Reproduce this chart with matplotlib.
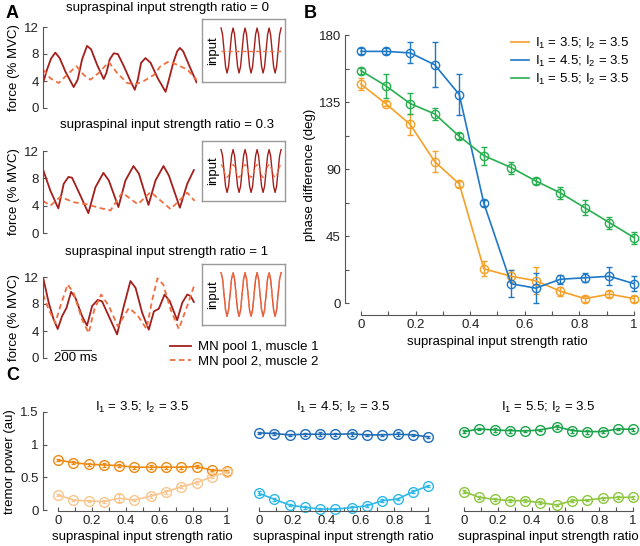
import numpy as np
import matplotlib
matplotlib.use("Agg")
import matplotlib.pyplot as plt

plt.rcParams['font.family'] = ['Liberation Sans', 'DejaVu Sans']
plt.rcParams['mathtext.default'] = 'regular'
plt.rcParams['font.size'] = 9.5

# ---- panel A: force traces (time in ms, force in % MVC) ----
a1_t1 = [0, 27, 53, 82, 111, 149, 204, 231, 260, 293, 320, 360, 404, 422, 444, 471, 498, 538, 582,
         611, 631, 653, 682, 716, 764, 816, 838, 867, 893, 911, 933, 971, 1022]
a1_f1 = [3.7, 5.7, 7.3, 8.2, 7.4, 5.4, 3.1, 4.2, 7.2, 9.2, 8.7, 6.4, 4.3, 5.2, 7.2, 8.1, 8.0, 6.2, 4.0,
         2.7, 4.2, 6.7, 7.4, 6.7, 4.4, 2.4, 4.2, 6.7, 8.4, 8.9, 8.4, 6.4, 3.8]
a1_t2 = [0, 49, 104, 160, 222, 271, 316, 371, 438, 493, 560, 616, 671, 738, 782, 838, 893, 960, 1022]
a1_f2 = [5.7, 4.4, 3.7, 4.9, 6.2, 4.9, 4.2, 5.2, 6.8, 5.2, 3.7, 3.5, 4.0, 4.9, 6.2, 6.9, 6.4, 5.7, 4.2]

a2_t1 = [0, 49, 102, 138, 169, 193, 238, 302, 349, 402, 438, 502, 549, 602, 638, 702, 749, 802, 838,
         911, 960, 1004]
a2_f1 = [9.3, 6.2, 3.6, 7.2, 8.2, 8.1, 6.0, 2.9, 6.7, 8.8, 7.7, 3.8, 7.7, 9.8, 8.7, 4.1, 7.7, 9.8, 8.4,
         3.7, 7.2, 9.2]
a2_t2 = [0, 49, 116, 204, 293, 371, 449, 527, 631, 716, 849, 960, 1009]
a2_f2 = [4.7, 4.0, 5.3, 4.5, 4.2, 3.7, 3.3, 5.9, 4.2, 6.0, 3.5, 5.9, 4.7]

a3_t1 = [0, 38, 71, 98, 127, 156, 187, 216, 260, 293, 327, 364, 393, 438, 493, 538, 582, 616, 660,
         704, 738, 771, 809, 844, 893, 927, 960, 982, 1004]
a3_f1 = [12.0, 8.2, 5.7, 4.3, 6.2, 7.4, 9.8, 8.9, 6.2, 4.8, 7.7, 8.6, 8.4, 6.2, 3.5, 7.7, 11.4, 10.4,
         6.7, 4.2, 6.9, 7.3, 9.4, 8.4, 5.6, 8.2, 9.4, 9.2, 8.3]
a3_t2 = [0, 38, 82, 116, 164, 204, 260, 304, 342, 387, 438, 498, 571, 627, 689, 727, 762, 800, 849,
         904, 960, 1004]
a3_f2 = [9.4, 7.2, 5.2, 7.7, 10.9, 9.6, 5.7, 3.7, 7.2, 9.4, 7.7, 4.7, 7.4, 6.4, 4.3, 8.6, 11.8, 10.9,
         7.2, 4.3, 7.7, 10.6]

ratios_A = ['0', '0.3', '1']
input_cycle = [1, 0.71, 0, -0.71, -1, -0.71, 0, 0.71]
input_main = input_cycle * 5 + [1]
input_second = [[0] * 41,
                [0.3 * v for v in input_main],
                input_main]

# ---- panel B: phase difference ----
ratio = [0, 0.09, 0.18, 0.27, 0.36, 0.45, 0.55, 0.64, 0.73, 0.82, 0.91, 1]
b_labels = ['I$_1$ = 3.5; I$_2$ = 3.5', 'I$_1$ = 4.5; I$_2$ = 3.5', 'I$_1$ = 5.5; I$_2$ = 3.5']
b_phase = [[147, 134, 120, 95, 80, 23, 18, 15, 8, 3, 6, 3],
           [169, 169, 168, 160, 140, 67, 13, 10, 16, 17, 18, 13],
           [156, 146, 134, 127, 112, 99, 91, 82, 74, 64, 54, 44]]
b_err = [[4, 2, 7, 7, 2, 5, 4, 9, 3, 2, 2, 2],
         [2, 2, 7, 15, 14, 2, 9, 10, 3, 3, 6, 5],
         [2, 8, 7, 4, 2, 6, 4, 2, 4, 5, 4, 4]]
b_colors = ['#F5A028', '#1E78C8', '#28AF50']

# ---- panel C: tremor power ----
c_dark = [[0.765, 0.725, 0.70, 0.69, 0.68, 0.655, 0.655, 0.655, 0.655, 0.665, 0.61, 0.60],
          [1.18, 1.17, 1.15, 1.16, 1.16, 1.16, 1.165, 1.15, 1.15, 1.16, 1.15, 1.12],
          [1.20, 1.24, 1.225, 1.215, 1.21, 1.225, 1.275, 1.215, 1.20, 1.20, 1.24, 1.235]]
c_light = [[0.23, 0.153, 0.138, 0.128, 0.18, 0.153, 0.214, 0.28, 0.357, 0.418, 0.51, 0.58],
           [0.255, 0.163, 0.077, 0.041, 0.015, 0.015, 0.036, 0.066, 0.143, 0.168, 0.28, 0.367],
           [0.28, 0.194, 0.163, 0.143, 0.143, 0.112, 0.077, 0.143, 0.153, 0.18, 0.194, 0.194]]
c_dark_err = [[0.02, 0.02, 0.02, 0.03, 0.02, 0.02, 0.03, 0.02, 0.02, 0.02, 0.02, 0.02],
              [0.02, 0.02, 0.02, 0.02, 0.03, 0.02, 0.03, 0.02, 0.02, 0.03, 0.02, 0.02],
              [0.02, 0.02, 0.03, 0.03, 0.02, 0.02, 0.03, 0.03, 0.03, 0.02, 0.02, 0.02]]
c_light_err = [[0.02, 0.02, 0.02, 0.02, 0.06, 0.02, 0.03, 0.03, 0.02, 0.02, 0.02, 0.02],
               [0.03, 0.02, 0.02, 0.02, 0.02, 0.02, 0.03, 0.02, 0.02, 0.02, 0.02, 0.02],
               [0.02, 0.02, 0.02, 0.02, 0.02, 0.02, 0.02, 0.02, 0.02, 0.02, 0.02, 0.02]]
c_dark_colors = ['#EE8A14', '#1F6DB8', '#1BA34B']
c_light_colors = ['#F8C68E', '#2DB8EA', '#8DC63F']

W, H = 640, 546
spine_col = '#555555'
fs = 9.5


def box(x0, y0, x1, y1):
    return [x0 / W, 1 - y1 / H, (x1 - x0) / W, (y1 - y0) / H]


def matlab_style(ax):
    for s in ['top', 'right']:
        ax.spines[s].set_visible(False)
    for s in ['left', 'bottom']:
        ax.spines[s].set_color(spine_col)
        ax.spines[s].set_linewidth(0.8)
    ax.tick_params(direction='in', length=3, width=0.8, color=spine_col, labelsize=fs,
                   labelcolor='#222222', pad=3)


fig = plt.figure(figsize=(6.4, 5.46), dpi=100)

dark_red = '#A21F1C'
orange_red = '#F06E40'
a_traces = [(a1_t1, a1_f1, a1_t2, a1_f2), (a2_t1, a2_f1, a2_t2, a2_f2), (a3_t1, a3_f1, a3_t2, a3_f2)]
a_rows = [(27, 108), (151, 233), (277, 358)]
a_titles_y = [8, 125, 252]
inset_rows = [(19, 82), (141, 201), (264, 325)]

for i in range(3):
    y0, y1 = a_rows[i]
    ax = fig.add_axes(box(43, y0, 197, y1))
    t1, f1, t2, f2 = a_traces[i]
    l1, = ax.plot(t1, f1, color=dark_red, lw=1.3, solid_joinstyle='round')
    l2, = ax.plot(t2, f2, color=orange_red, lw=1.3, dashes=(3, 2), dash_joinstyle='round')
    ax.set_xlim(0, 1025)
    ax.set_ylim(0, 12)
    ax.set_yticks([0, 4, 8, 12])
    matlab_style(ax)
    ax.spines['bottom'].set_visible(False)
    ax.set_xticks([])
    ax.set_ylabel('force (% MVC)', fontsize=fs)
    ax.yaxis.set_label_coords(-0.15, 0.5)
    fig.text(167 / W, 1 - a_titles_y[i] / H, 'supraspinal input strength ratio = ' + ratios_A[i],
             ha='center', va='center', fontsize=fs)

    iy0, iy1 = inset_rows[i]
    axi = fig.add_axes(box(202, iy0, 285, iy1))
    n = np.arange(len(input_main))
    axi.plot(n, input_main, color=dark_red if i < 2 else '#D4503A', lw=1.0)
    axi.plot(n, input_second[i], color=orange_red, lw=1.0, dashes=(3, 2))
    axi.set_xlim(-12.7, 42.6)
    axi.set_ylim(-1.4, 1.4)
    axi.set_xticks([])
    axi.set_yticks([])
    for s in axi.spines.values():
        s.set_color('#999999')
        s.set_linewidth(1.0)
    axi.text(0.13, 0.5, 'input', rotation=90, ha='center', va='center', fontsize=fs,
             transform=axi.transAxes)

    if i == 2:
        ax.plot([120, 320], [1.2, 1.2], color='#444444', lw=0.8, clip_on=False)
        ax.text(220, 0.9, '200 ms', ha='center', va='top', fontsize=fs, clip_on=False)
        fig.legend([l1, l2], ['MN pool 1, muscle 1', 'MN pool 2, muscle 2'], loc='upper left',
                   bbox_to_anchor=(170 / W, 1 - 341 / H), frameon=False, borderpad=0,
                   borderaxespad=0, handlelength=1.6, handletextpad=0.5, labelspacing=0.2,
                   fontsize=fs)

# ---- panel B ----
axb = fig.add_axes(box(345, 35, 634, 315))
for k in range(3):
    axb.errorbar(ratio, b_phase[k], yerr=b_err[k], color=b_colors[k], marker='o', mfc='none',
                 ms=6, mew=1.0, lw=1.2, elinewidth=1.0, capsize=2.5, label=b_labels[k],
                 clip_on=False)
axb.set_xlim(-0.0586, 1.0)
axb.set_ylim(-8, 180)
matlab_style(axb)
axb.spines['left'].set_bounds(0, 180)
axb.spines['bottom'].set_bounds(0, 1)
axb.set_yticks([0, 22.5, 45, 67.5, 90, 112.5, 135, 157.5, 180])
axb.set_yticklabels(['0', '', '45', '', '90', '', '135', '', '180'])
axb.set_xticks([0, 0.1, 0.2, 0.3, 0.4, 0.5, 0.6, 0.7, 0.8, 0.9, 1])
axb.set_xticklabels(['0', '', '0.2', '', '0.4', '', '0.6', '', '0.8', '', '1'])
axb.set_ylabel('phase difference (deg)', fontsize=fs)
axb.yaxis.set_label_coords(-0.1, 0.5)
axb.set_xlabel('supraspinal input strength ratio', fontsize=fs)
axb.xaxis.set_label_coords(0.528, -0.075)
handles = [plt.Line2D([], [], color=c, lw=1.2) for c in b_colors]
axb.legend(handles, b_labels, loc='upper left', bbox_to_anchor=(511 / W, 1 - 36 / H),
           bbox_transform=fig.transFigure, frameon=False, borderpad=0, borderaxespad=0,
           handlelength=1.4, handletextpad=0.4, labelspacing=0.2, fontsize=fs)

# ---- panel C ----
c_left = [43, 244, 449]
for k in range(3):
    axc = fig.add_axes(box(c_left[k], 412, c_left[k] + 184, 511))
    axc.errorbar(ratio, c_dark[k], yerr=c_dark_err[k], color=c_dark_colors[k], marker='o',
                 mfc='none', ms=7, mew=1.0, lw=1.2, elinewidth=0.9, capsize=1.5, clip_on=False)
    axc.errorbar(ratio, c_light[k], yerr=c_light_err[k], color=c_light_colors[k], marker='o',
                 mfc='none', ms=7, mew=1.0, lw=1.2, elinewidth=0.9, capsize=1.5, clip_on=False)
    axc.set_xlim(-0.09, 1.0)
    axc.set_ylim(-0.015, 1.5)
    matlab_style(axc)
    axc.spines['bottom'].set_bounds(0, 1)
    axc.set_xticks([0, 0.1, 0.2, 0.3, 0.4, 0.5, 0.6, 0.7, 0.8, 0.9, 1])
    axc.set_xticklabels(['0', '', '0.2', '', '0.4', '', '0.6', '', '0.8', '', '1'])
    axc.set_xlabel('supraspinal input strength ratio', fontsize=fs)
    axc.xaxis.set_label_coords(0.541, -0.2)
    axc.set_title(b_labels[k], fontsize=fs, x=0.541, y=1.0, pad=1)
    if k == 0:
        axc.spines['left'].set_bounds(0, 1.5)
        axc.set_yticks([0, 0.5, 1, 1.5])
        axc.set_yticklabels(['0', '0.5', '1', '1.5'])
        axc.set_ylabel('tremor power (au)', fontsize=fs)
        axc.yaxis.set_label_coords(-0.145, 0.5)
    else:
        axc.spines['left'].set_visible(False)
        axc.set_yticks([])

fig.text(6 / W, 1 - 13 / H, 'A', fontsize=13, fontweight='bold', va='center')
fig.text(304 / W, 1 - 13 / H, 'B', fontsize=13, fontweight='bold', va='center')
fig.text(6 / W, 1 - 376 / H, 'C', fontsize=13, fontweight='bold', va='center')

fig.savefig('out.png', dpi=100)
